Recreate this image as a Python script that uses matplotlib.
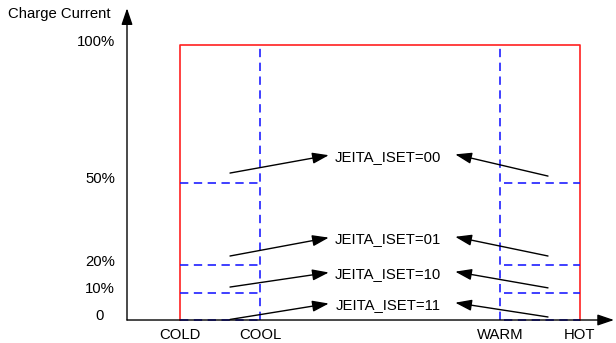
import matplotlib
matplotlib.use("Agg")
import matplotlib.pyplot as plt

# =========================
# data
# =========================
temp_names = ['COLD', 'COOL', 'WARM', 'HOT']
temp_pos = [1, 2, 5, 6]
current_ticks = [0, 10, 20, 50, 100]
current_labels = ['0', '10%', '20%', '50%', '100%']
iset_names = ['JEITA_ISET=00', 'JEITA_ISET=01', 'JEITA_ISET=10', 'JEITA_ISET=11']
iset_current = [50, 20, 10, 0]

# layout for the callouts (label y, arrow start heights on each side)
label_y = [59.5, 29.5, 16.8, 5.5]
left_start_y = [53.5, 23.3, 12.0, 0.2]
right_start_y = [52.4, 23.3, 11.7, 1.1]

plt.rcParams['font.family'] = ['Liberation Sans', 'DejaVu Sans']
FS = 10.7

fig = plt.figure(figsize=(6.16, 3.43), dpi=100)
ax = fig.add_axes([0, 0, 1, 1])
ax.set_xlim(-1.25, 6.45)
ax.set_ylim(-8.37, 116.5)
ax.axis('off')

x0 = 0.3375
arr = dict(arrowstyle='-|>,head_length=0.5,head_width=0.17', color='black',
           lw=1.0, mutation_scale=20, shrinkA=0, shrinkB=0)

# axes with arrow heads
ax.annotate('', xy=(x0, 113.5), xytext=(x0, 0), arrowprops=arr)
ax.annotate('', xy=(6.425, 0), xytext=(x0, 0), arrowprops=arr)
ax.text(-1.15, 111.5, 'Charge Current', fontsize=FS, ha='left', va='center')

for v, lab in zip(current_ticks, current_labels):
    xt = -0.05 if lab == '100%' else 0.0
    ax.text(xt, v + 1.2 if v > 0 else v + 1.4, lab, fontsize=FS,
            ha='center', va='center')

for p, n in zip(temp_pos, temp_names):
    ax.text(p, -5.5, n, fontsize=FS, ha='center', va='center')

# red envelope: normal charge current between COLD and HOT
cold, cool, warm, hot = temp_pos
ax.plot([cold, cold, hot, hot], [0, 100, 100, 0], color='#ff2020', lw=1.2)

# blue dashed: reduced currents in cool / warm regions
blue = dict(color='#1f1fff', lw=1.2, dashes=(5, 3.3))
ax.plot([cool, cool], [0, 100], **blue)
ax.plot([warm, warm], [0, 100], **blue)
for c in iset_current:
    ax.plot([cold, cool], [c, c], **blue)
    ax.plot([warm + 0.05, hot], [c, c], **blue)

# callouts
for name, ly, ls, rs in zip(iset_names, label_y, left_start_y, right_start_y):
    ax.text(3.6, ly, name, fontsize=FS, ha='center', va='center')
    ax.annotate('', xy=(2.86, ly + 0.5), xytext=(1.625, ls), arrowprops=arr)
    ax.annotate('', xy=(4.44, ly + 0.8), xytext=(5.6, rs), arrowprops=arr)

fig.savefig('out.png', dpi=100)
